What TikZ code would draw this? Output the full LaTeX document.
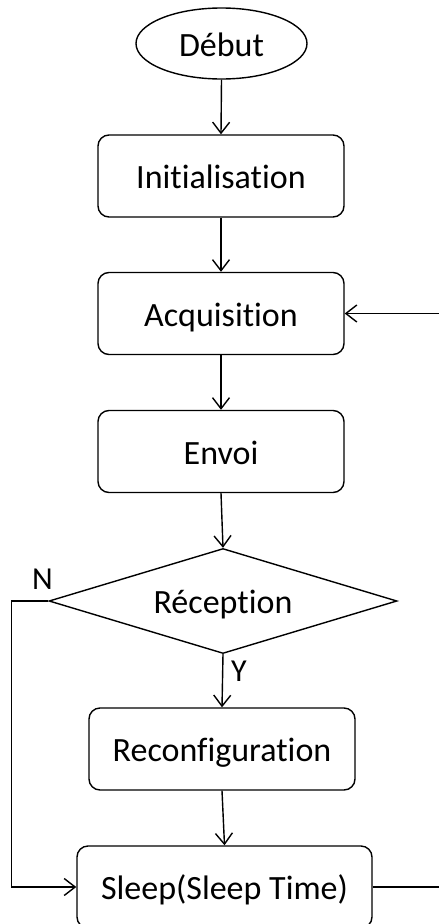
\documentclass[tikz,border=0pt]{standalone}
\usepackage{fontspec}
\setmainfont[RawFeature=-liga]{Carlito}
\usetikzlibrary{shapes.geometric,arrows.meta}
\begin{document}
\begin{tikzpicture}[x=1pt,y=-1pt,
  line width=1.4pt,
  flow/.style={-{Straight Barb[length=11pt,width=17pt]}},
  label text/.style={font=\fontsize{34}{40}\selectfont,text height=25pt,text depth=0pt},
  stepbox/.style={draw,rounded corners=11pt,minimum height=82pt,inner sep=0pt,label text},
  startnode/.style={draw,ellipse,minimum width=171pt,minimum height=71pt,inner sep=0pt,label text},
  decision/.style={draw,diamond,aspect=3.3,minimum width=348pt,minimum height=105pt,inner sep=0pt,label text},
  branch/.style={font=\fontsize{32}{36}\selectfont,inner sep=0pt}
]
\useasboundingbox (0,0) rectangle (439,924);
\clip (0,0) rectangle (439,924);

% main column of steps
\node[startnode] (debut) at (221.5,43.5) {Début};
\node[stepbox,minimum width=246pt] (init) at (221,176) {Initialisation};
\node[stepbox,minimum width=246pt] (acq) at (221,313.5) {Acquisition};
\node[stepbox,minimum width=246pt] (envoi) at (221,451.5) {Envoi};
\node[decision] (recep) at (223,601) {Réception};
\node[stepbox,minimum width=266pt] (reconf) at (222,749) {Reconfiguration};
\node[stepbox,minimum width=295pt] (sleep) at (224.5,887) {Sleep(Sleep Time)};

% branch labels
\node[branch] (nlab) at (42.5,579) {N};
\node[branch] (ylab) at (239,671) {Y};

% connectors
\draw[flow] (debut.south) -- (init.north);
\draw[flow] (init.south) -- (acq.north);
\draw[flow] (acq.south) -- (envoi.north);
\draw[flow] (envoi.south) -- (recep.north);
\draw[flow] (recep.south) -- (reconf.north);
\draw[flow] (reconf.south) -- (sleep.north);
\draw[flow] (recep.west) -- ++(-37,0) |- (sleep.west);
\draw[flow] (sleep.east) -- ++(80,0) |- (acq.east);
\end{tikzpicture}
\end{document}
